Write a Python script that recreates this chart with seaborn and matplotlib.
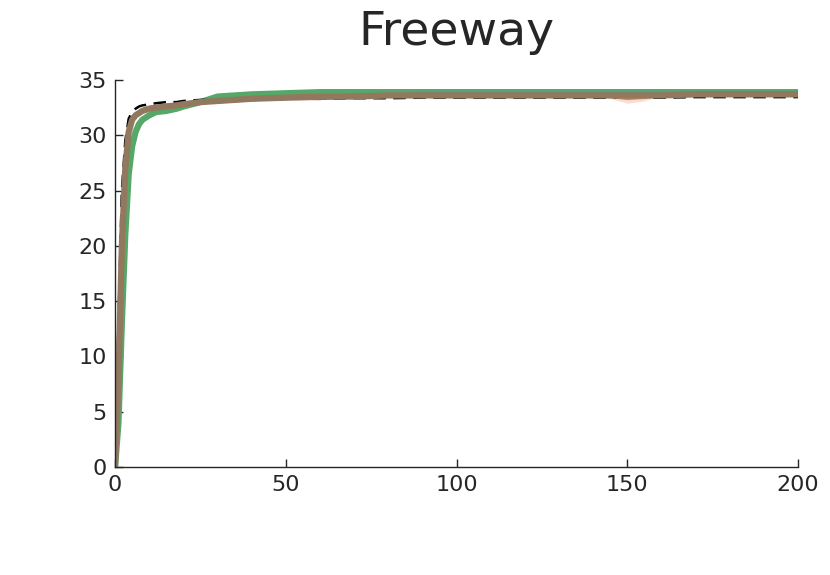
import matplotlib
matplotlib.use("Agg")
import matplotlib.pyplot as plt
import seaborn as sns
import pandas as pd

# -----------------------------
# Data
# -----------------------------

episodes = [0, 1, 2, 3, 4, 5, 6, 7, 8, 10, 12, 15, 18, 20, 25, 30, 35, 40, 50,
            60, 70, 80, 90, 100, 110, 120, 130, 140, 145, 150, 155, 160, 170,
            180, 190, 200]

blue = [0, 9, 21, 27.5, 30.6, 31.6, 31.9, 32.1, 32.3, 32.5, 32.6, 32.7, 32.8,
        32.9, 33.0, 33.1, 33.2, 33.3, 33.4, 33.5, 33.6, 33.6, 33.7, 33.7, 33.7,
        33.7, 33.7, 33.7, 33.7, 33.7, 33.7, 33.7, 33.8, 33.8, 33.8, 33.8]

red = [0, 8, 20, 27, 30.4, 31.4, 31.8, 32.0, 32.2, 32.4, 32.5, 32.6, 32.7,
       32.8, 32.9, 33.0, 33.1, 33.2, 33.3, 33.3, 33.5, 33.6, 33.6, 33.6, 33.6,
       33.6, 33.6, 33.6, 33.6, 33.6, 33.6, 33.6, 33.7, 33.7, 33.7, 33.7]

orange = [0, 8, 20, 27, 30.5, 31.5, 31.8, 32.0, 32.2, 32.4, 32.5, 32.6, 32.7,
          32.8, 33.0, 33.1, 33.2, 33.3, 33.4, 33.5, 33.5, 33.6, 33.6, 33.6,
          33.6, 33.6, 33.6, 33.6, 33.5, 33.3, 33.4, 33.6, 33.7, 33.7, 33.7, 33.7]
orange_lo = [0, 8, 20, 27, 30.5, 31.5, 31.8, 32.0, 32.2, 32.4, 32.5, 32.6,
             32.7, 32.8, 33.0, 33.1, 33.2, 33.3, 33.4, 33.5, 33.5, 33.6, 33.6,
             33.6, 33.6, 33.6, 33.6, 33.6, 33.3, 32.9, 33.1, 33.6, 33.7, 33.7,
             33.7, 33.7]
orange_hi = [0, 8, 20, 27, 30.5, 31.5, 31.8, 32.0, 32.2, 32.4, 32.5, 32.6,
             32.7, 32.8, 33.0, 33.1, 33.2, 33.3, 33.4, 33.5, 33.5, 33.6, 33.6,
             33.6, 33.6, 33.6, 33.6, 33.6, 33.6, 33.6, 33.6, 33.6, 33.7, 33.7,
             33.7, 33.7]

green = [0, 4, 13, 21, 26.5, 29.0, 30.3, 31.0, 31.4, 31.8, 32.1, 32.2, 32.4,
         32.6, 33.0, 33.5, 33.6, 33.7, 33.8, 33.9, 33.9, 33.9, 33.9, 33.9,
         33.9, 33.9, 33.9, 33.9, 33.9, 33.9, 33.9, 33.9, 33.9, 33.9, 33.9, 33.9]

brown = [0, 8, 20, 27, 30.3, 31.4, 31.8, 32.0, 32.2, 32.4, 32.5, 32.6, 32.7,
         32.8, 33.0, 33.1, 33.2, 33.3, 33.4, 33.5, 33.5, 33.6, 33.6, 33.6,
         33.6, 33.6, 33.6, 33.6, 33.6, 33.6, 33.6, 33.6, 33.7, 33.7, 33.7, 33.7]

black = [0, 13, 25, 29.5, 31.5, 32.1, 32.4, 32.6, 32.7, 32.8, 32.9, 33.0,
         33.0, 33.1, 33.2, 33.2, 33.2, 33.2, 33.3, 33.3, 33.35, 33.35, 33.4,
         33.4, 33.4, 33.4, 33.4, 33.4, 33.4, 33.4, 33.4, 33.4, 33.45, 33.45,
         33.45, 33.45]

x_ticks = [0, 50, 100, 150, 200]
y_ticks = [0, 5, 10, 15, 20, 25, 30, 35]

# -----------------------------
# Styling
# -----------------------------

sns.set_style("white")
plt.rcParams["font.family"] = ["DejaVu Sans"]

df = pd.DataFrame({
    "x": episodes, "blue": blue, "red": red, "orange": orange,
    "green": green, "brown": brown, "black": black,
})

fig = plt.figure(figsize=(8.3, 5.75), dpi=100)
ax = fig.add_axes([0.1386, 0.1878, 0.8228, 0.6731])

ax.fill_between(episodes, orange_lo, orange_hi, color="#dd8452",
                alpha=0.25, linewidth=0)

sns.lineplot(data=df, x="x", y="green", color="#55a868", linewidth=4.5, ax=ax)
sns.lineplot(data=df, x="x", y="black", color="black", linewidth=1.8,
             linestyle=(0, (5, 3)), ax=ax)
sns.lineplot(data=df, x="x", y="blue", color="#4c72b0", linewidth=2.5, ax=ax)
sns.lineplot(data=df, x="x", y="red", color="#c44e52", linewidth=2, ax=ax)
sns.lineplot(data=df, x="x", y="orange", color="#dd8452", linewidth=2, ax=ax)
sns.lineplot(data=df, x="x", y="brown", color="#937860", linewidth=4.5, ax=ax)

ax.set_xlim(0, 200)
ax.set_ylim(0, 35)
ax.set_xticks(x_ticks)
ax.set_yticks(y_ticks)
ax.set_xlabel("")
ax.set_ylabel("")
ax.set_title("Freeway", fontsize=34, color="#262626", pad=25)

ax.tick_params(direction="in", length=6, width=1, labelsize=16,
               colors="#262626", left=True, bottom=True, pad=6)
sns.despine(ax=ax)
for side in ["left", "bottom"]:
    ax.spines[side].set_color("#262626")
    ax.spines[side].set_linewidth(1)

fig.savefig("out.png", dpi=100)
